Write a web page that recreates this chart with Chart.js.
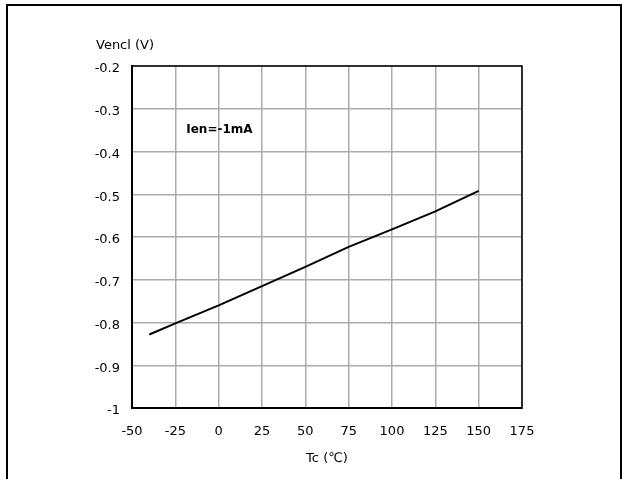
<!DOCTYPE html>
<html>
<head>
<meta charset="utf-8">
<title>Vencl vs Tc</title>
<script src="https://cdn.jsdelivr.net/npm/chart.js@4/dist/chart.umd.min.js"></script>
<style>
    html, body { margin: 0; padding: 0; background: #fff; }
    #wrap { position: relative; width: 622px; height: 479px; overflow: hidden; }
    #frame { position: absolute; left: 6px; top: 4px; width: 616px; height: 500px; box-sizing: border-box; border: 2px solid #000; border-bottom: none; }
    #vencl { position: absolute; left: 0; top: 0; }
</style>
</head>
<body>
<div id="wrap">
    <div id="frame"></div>
    <canvas id="vencl" width="622" height="479"></canvas>
</div>
<script>
// case temperature (degC) and clamp voltage (V)
const tcValues = [-40, -25, 0, 25, 50, 75, 100, 125, 150];
const venclValues = [-0.828, -0.802, -0.760, -0.715, -0.670, -0.623, -0.582, -0.540, -0.492];

const xTicks = [-50, -25, 0, 25, 50, 75, 100, 125, 150, 175];
const yTicks = [-1, -0.9, -0.8, -0.7, -0.6, -0.5, -0.4, -0.3, -0.2];

const yAxisTitle = 'Vencl (V)';
const xAxisTitle = 'Tc (\u2103)';
const conditionLabel = 'Ien=-1mA';

const FONT = '"DejaVu Sans", Verdana, sans-serif';

const textPlugin = {
    id: 'textPlugin',
    beforeDatasetsDraw(chart) {
        const { ctx, chartArea } = chart;
        ctx.save();
        ctx.strokeStyle = '#000';
        ctx.lineWidth = 1.5;
        ctx.strokeRect(chartArea.left, chartArea.top, chartArea.right - chartArea.left, chartArea.bottom - chartArea.top);
        ctx.restore();
    },
    afterDraw(chart) {
        const { ctx, chartArea, scales } = chart;
        ctx.save();
        ctx.fillStyle = '#000';
        ctx.textBaseline = 'middle';
        ctx.textAlign = 'left';
        ctx.font = '13px ' + FONT;
        ctx.fillText(yAxisTitle, chartArea.left - 36, chartArea.top - 20);
        ctx.font = 'bold 12px ' + FONT;
        ctx.fillText(conditionLabel, scales.x.getPixelForValue(-18.7), scales.y.getPixelForValue(-0.349));
        ctx.restore();
    }
};

const ctx = document.getElementById('vencl').getContext('2d');
const venclChart = new Chart(ctx, {
    type: 'line',
    data: {
        labels: tcValues,
        datasets: [{
            label: 'Vencl',
            data: tcValues.map((t, i) => ({ x: t, y: venclValues[i] })),
            borderColor: '#000',
            borderWidth: 2,
            pointRadius: 0,
            tension: 0,
            fill: false
        }]
    },
    options: {
        responsive: false,
        animation: false,
        layout: { padding: { left: 0, top: 66, right: 100, bottom: 0 } },
        plugins: {
            legend: { display: false },
            tooltip: { enabled: false }
        },
        scales: {
            x: {
                type: 'linear',
                min: -50,
                max: 175,
                afterBuildTicks(scale) { scale.ticks = xTicks.map(v => ({ value: v })); },
                afterFit(scale) { scale.height = 71; },
                grid: { color: '#ababab', lineWidth: 1.5, drawTicks: false },
                border: { color: '#000', width: 2 },
                ticks: {
                    color: '#000',
                    font: { family: FONT, size: 13 },
                    padding: 16,
                    maxRotation: 0,
                    callback: v => String(v)
                },
                title: {
                    display: true,
                    text: xAxisTitle,
                    color: '#000',
                    font: { family: FONT, size: 13 },
                    padding: { top: 0, bottom: 13 }
                }
            },
            y: {
                type: 'linear',
                min: -1,
                max: -0.2,
                afterBuildTicks(scale) { scale.ticks = yTicks.map(v => ({ value: v })); },
                afterFit(scale) { scale.width = 132; },
                grid: { color: '#ababab', lineWidth: 1.5, drawTicks: false },
                border: { color: '#000', width: 2 },
                ticks: {
                    color: '#000',
                    font: { family: FONT, size: 13 },
                    padding: 12,
                    labelOffset: 3,
                    callback: v => String(Number(v.toFixed(1)))
                }
            }
        }
    },
    plugins: [textPlugin]
});
</script>
</body>
</html>
